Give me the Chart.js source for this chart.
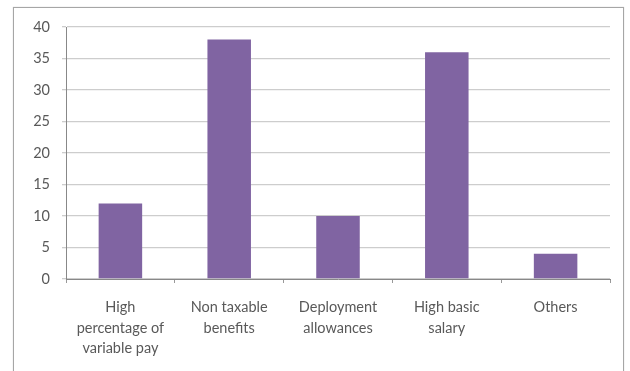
<!DOCTYPE html>
<html>
<head>
<meta charset="utf-8">
<script src="https://cdn.jsdelivr.net/npm/chart.js@4/dist/chart.umd.min.js"></script>
<style>
  html, body { margin: 0; padding: 0; background: #fff; overflow: hidden; }
  #frame {
    position: absolute; left: 13px; top: 7px; width: 609px; height: 400px;
    border: 1px solid #a6a6a6; box-shadow: 0 0 1px #c8c8c8;
  }
  #wrap { position: absolute; left: 0; top: 0; width: 630px; height: 371px; }
</style>
</head>
<body>
<div id="frame"></div>
<div id="wrap"><canvas id="benefitChart" width="630" height="371"></canvas></div>
<script>
const categories = [
  ["High", "percentage of", "variable pay"],
  ["Non taxable", "benefits"],
  ["Deployment", "allowances"],
  ["High basic", "salary"],
  ["Others"],
];
const responses = [12, 38, 10, 36, 4];
const yTicks = [0, 5, 10, 15, 20, 25, 30, 35, 40];

const ctx = document.getElementById("benefitChart");
new Chart(ctx, {
  type: "bar",
  data: {
    labels: categories,
    datasets: [
      {
        data: responses,
        backgroundColor: "#8064A2",
        categoryPercentage: 1,
        barPercentage: 0.4,
      },
    ],
  },
  options: {
    responsive: false,
    animation: false,
    layout: { padding: { top: 27, right: 20, bottom: 0, left: 0 } },
    plugins: {
      legend: { display: false },
      tooltip: { enabled: false },
    },
    scales: {
      x: {
        offset: true,
        grid: {
          offset: true,
          drawOnChartArea: false,
          drawTicks: true,
          tickLength: 4,
          color: "#999",
        },
        border: { color: "#888", width: 1 },
        ticks: {
          padding: 14,
          maxRotation: 0,
          autoSkip: false,
          color: "#595959",
          font: { family: "Lato", size: 14.5, lineHeight: 1.42 },
        },
        afterFit: (axis) => { axis.height = 92; },
      },
      y: {
        min: 0,
        max: 40,
        afterBuildTicks: (axis) => {
          axis.ticks = yTicks.map((v) => ({ value: v }));
        },
        grid: {
          color: "#cdcdcd",
          lineWidth: 1.3,
          tickLength: 4,
        },
        border: { color: "#888", width: 1 },
        ticks: {
          padding: 12,
          color: "#595959",
          font: { family: "Lato", size: 14.5 },
        },
        afterFit: (axis) => { axis.width = 66; },
      },
    },
  },
});
</script>
</body>
</html>
